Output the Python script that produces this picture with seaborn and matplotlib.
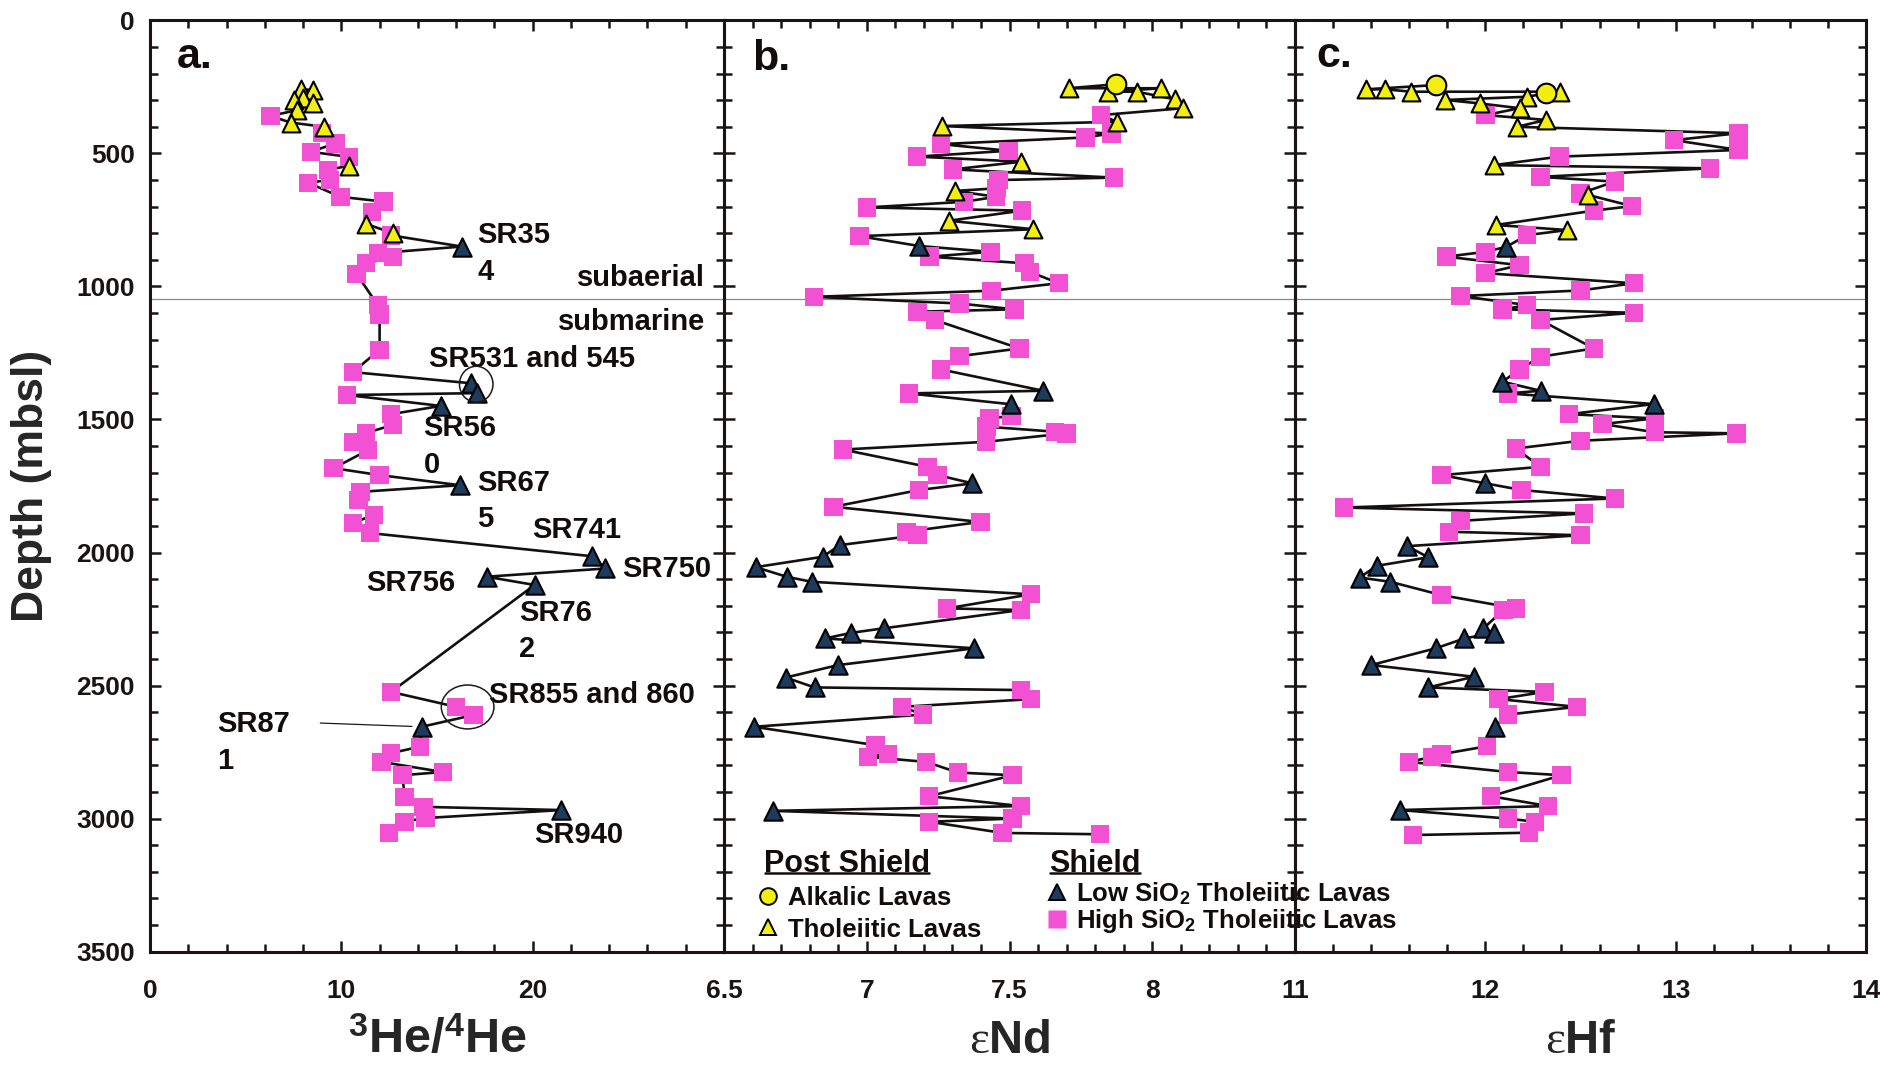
import matplotlib
matplotlib.use("Agg")
import numpy as np
import pandas as pd
import matplotlib.pyplot as plt
import seaborn as sns
from matplotlib.ticker import MultipleLocator, FixedLocator, FixedFormatter
from matplotlib.patches import Ellipse
from matplotlib.lines import Line2D

# ---------------------------------------------------------------------------
# Sample types: alk = post-shield alkalic, tho = post-shield tholeiitic,
#               low = shield low-SiO2 tholeiite, high = shield high-SiO2 tholeiite
# ---------------------------------------------------------------------------

# Panel a: 3He/4He (R/Ra) versus depth
he_depth = [258, 262, 290, 300, 312, 337, 359, 384, 400, 424, 462, 494, 513, 546,
            562, 600, 610, 663, 681, 720, 765, 800, 808, 850, 875, 889, 913, 953,
            1070, 1105, 1238, 1322, 1364, 1401, 1408, 1449, 1480, 1520, 1551, 1584,
            1615, 1683, 1709, 1747, 1772, 1803, 1859, 1889, 1927, 2014, 2060, 2091,
            2122, 2524, 2580, 2611, 2655, 2730, 2754, 2787, 2825, 2837, 2918, 2956,
            2968, 2998, 3012, 3055]
he_ratio = [7.9, 8.5, 8.0, 7.5, 8.5, 7.7, 6.3, 7.35, 9.1, 9.0, 9.7, 8.4, 10.4, 10.4,
            9.3, 9.4, 8.25, 9.95, 12.2, 11.6, 11.3, 12.7, 12.6, 16.3, 11.9, 12.7, 11.3, 10.8,
            11.9, 12.0, 12.0, 10.6, 16.8, 17.1, 10.3, 15.2, 12.6, 12.7, 11.3, 10.6,
            11.4, 9.6, 12.0, 16.2, 11.0, 10.9, 11.7, 10.6, 11.5, 23.1, 23.8, 17.6,
            20.1, 12.6, 16.0, 16.9, 14.2, 14.1, 12.6, 12.1, 15.3, 13.2, 13.3, 14.3,
            21.5, 14.4, 13.3, 12.5]
he_type = ["tho", "tho", "tho", "tho", "tho", "tho", "high", "tho", "tho", "high", "high", "high", "high", "tho",
           "high", "high", "high", "high", "high", "high", "tho", "tho", "high", "low", "high", "high", "high", "high",
           "high", "high", "high", "high", "low", "low", "high", "low", "high", "high", "high", "high",
           "high", "high", "high", "low", "high", "high", "high", "high", "high", "low", "low", "low",
           "low", "high", "high", "high", "low", "high", "high", "high", "high", "high", "high", "high",
           "low", "high", "high", "high"]

# Panel b: epsilon Nd versus depth
nd_depth = [240, 255, 255, 268, 268, 297, 330, 356, 381, 397, 425, 440, 465, 490, 512, 531,
            560, 591, 600, 631, 641, 663, 682, 703, 715, 753, 785, 811, 848, 870, 888, 913,
            945, 988, 1016, 1039, 1064, 1086, 1095, 1126, 1233, 1262, 1312, 1392, 1402, 1443,
            1487, 1496, 1527, 1546, 1552, 1584, 1613, 1678, 1709, 1740, 1765, 1828, 1885, 1922,
            1935, 1972, 2016, 2055, 2091, 2110, 2157, 2210, 2216, 2285, 2302, 2323, 2360, 2423,
            2470, 2507, 2517, 2551, 2580, 2609, 2655, 2724, 2758, 2768, 2787, 2827, 2837, 2916,
            2953, 2971, 3000, 3012, 3054, 3059]
nd_value = [7.873, 7.708, 8.03, 7.846, 7.947, 8.08, 8.108, 7.82, 7.876, 7.265, 7.857, 7.766, 7.259, 7.497, 7.175, 7.542,
            7.303, 7.866, 7.462, 7.455, 7.31, 7.453, 7.34, 7.0, 7.544, 7.287, 7.584, 6.974, 7.184, 7.434, 7.22, 7.553,
            7.571, 7.673, 7.437, 6.815, 7.325, 7.517, 7.178, 7.238, 7.535, 7.325, 7.26, 7.618, 7.148, 7.507,
            7.507, 7.43, 7.42, 7.66, 7.70, 7.417, 6.916, 7.213, 7.248, 7.37, 7.184, 6.883, 7.398, 7.139,
            7.178, 6.906, 6.846, 6.611, 6.719, 6.807, 7.575, 7.281, 7.54, 7.059, 6.945, 6.854, 7.377, 6.9,
            6.716, 6.817, 7.54, 7.576, 7.124, 7.197, 6.605, 7.03, 7.075, 7.004, 7.208, 7.32, 7.511, 7.219,
            7.54, 6.671, 7.511, 7.219, 7.476, 7.818]
nd_type = ["alk", "tho", "tho", "tho", "tho", "tho", "tho", "high", "tho", "tho", "high", "high", "high", "high", "high", "tho",
           "high", "high", "high", "high", "tho", "high", "high", "high", "high", "tho", "tho", "high", "low", "high", "high", "high",
           "high", "high", "high", "high", "high", "high", "high", "high", "high", "high", "high", "low", "high", "low",
           "high", "high", "high", "high", "high", "high", "high", "high", "high", "low", "high", "high", "high", "high",
           "high", "low", "low", "low", "low", "low", "high", "high", "high", "low", "low", "low", "low", "low",
           "low", "low", "high", "high", "high", "high", "low", "high", "high", "high", "high", "high", "high", "high",
           "high", "low", "high", "high", "high", "high"]

# Panel c: epsilon Hf versus depth
hf_depth = [243, 259, 259, 268, 268, 274, 287, 299, 312, 330, 356, 374, 400, 424, 450, 487,
            512, 544, 556, 588, 606, 650, 656, 698, 715, 769, 788, 807, 851, 870, 888, 920,
            950, 988, 1015, 1036, 1070, 1086, 1099, 1126, 1233, 1264, 1312, 1358, 1392, 1402,
            1442, 1480, 1496, 1517, 1548, 1552, 1580, 1609, 1678, 1709, 1740, 1765, 1797, 1831,
            1853, 1881, 1922, 1935, 1976, 2018, 2050, 2094, 2110, 2160, 2210, 2216, 2285, 2302,
            2323, 2360, 2423, 2467, 2507, 2524, 2551, 2580, 2609, 2655, 2728, 2758, 2768, 2787,
            2825, 2837, 2916, 2953, 2968, 3000, 3012, 3053, 3062]
hf_value = [11.74, 11.374, 11.473, 11.611, 12.39, 12.32, 12.22, 11.79, 11.97, 12.18, 12.0, 12.32, 12.165, 13.33, 12.99, 13.33,
            12.39, 12.045, 13.18, 12.29, 12.68, 12.5, 12.54, 12.77, 12.57, 12.056, 12.43, 12.22, 12.11, 12.0, 11.795, 12.18,
            12.0, 12.78, 12.5, 11.87, 12.22, 12.09, 12.78, 12.29, 12.57, 12.29, 12.18, 12.09, 12.29, 12.12,
            12.885, 12.44, 12.89, 12.615, 12.89, 13.32, 12.5, 12.16, 12.29, 11.77, 12.0, 12.19, 12.68, 11.256,
            12.52, 11.87, 11.81, 12.5, 11.59, 11.70, 11.43, 11.34, 11.50, 11.77, 12.16, 12.095, 11.99, 12.045,
            11.89, 11.74, 11.40, 11.94, 11.70, 12.31, 12.07, 12.48, 12.12, 12.05, 12.01, 11.77, 11.72, 11.6,
            12.12, 12.40, 12.03, 12.33, 11.55, 12.12, 12.26, 12.23, 11.62]
hf_type = ["alk", "tho", "tho", "tho", "tho", "alk", "tho", "tho", "tho", "tho", "high", "tho", "tho", "high", "high", "high",
           "high", "tho", "high", "high", "high", "high", "tho", "high", "high", "tho", "tho", "high", "low", "high", "high", "high",
           "high", "high", "high", "high", "high", "high", "high", "high", "high", "high", "high", "low", "low", "high",
           "low", "high", "high", "high", "high", "high", "high", "high", "high", "high", "low", "high", "high", "high",
           "high", "high", "high", "high", "low", "low", "low", "low", "low", "high", "high", "high", "low", "low",
           "low", "low", "low", "low", "low", "high", "high", "high", "high", "low", "high", "high", "high", "high",
           "high", "high", "high", "high", "low", "high", "high", "high", "high"]

# Depth of the subaerial / submarine transition
transition_depth = 1046

# ---------------------------------------------------------------------------
sns.set_style("ticks")
plt.rcParams.update({
    "font.family": ["Liberation Sans", "DejaVu Sans"],
    "font.weight": "bold",
    "mathtext.fontset": "custom",
    "mathtext.rm": "Liberation Sans:bold",
    "mathtext.bf": "Liberation Sans:bold",
    "mathtext.it": "Liberation Serif:weight=normal:style=normal",
    "axes.linewidth": 2.2,
    "axes.edgecolor": "#1c1414",
    "xtick.color": "#1c1414",
    "ytick.color": "#1c1414",
    "text.color": "#140c0c",
})

PINK = "#F351D3"
BLUE = "#1D3B5C"
YELLOW = "#F2EE10"
LINE = "#141010"

styles = {
    "high": dict(marker="s", color=PINK, s=175, linewidth=0, edgecolor="none"),
    "low": dict(marker="^", color=BLUE, s=175, linewidth=1.5, edgecolor="black"),
    "tho": dict(marker="^", color=YELLOW, s=165, linewidth=1.5, edgecolor="black"),
    "alk": dict(marker="o", color=YELLOW, s=200, linewidth=1.5, edgecolor="black"),
}

W, H = 1881, 1065
fig = plt.figure(figsize=(W / 100, H / 100), dpi=100)
top_px, bot_px = 20.4, 951.6
panel_edges = [150, 724, 1295, 1866]
axes = []
for i in range(3):
    x0, x1 = panel_edges[i], panel_edges[i + 1]
    ax = fig.add_axes([x0 / W, 1 - bot_px / H, (x1 - x0) / W, (bot_px - top_px) / H])
    ax.set_facecolor("none")
    axes.append(ax)
ax_a, ax_b, ax_c = axes


def draw_panel(ax, depth, value, kind):
    df = pd.DataFrame({"depth": depth, "value": value, "kind": kind})
    df = df.sort_values("depth", kind="stable").reset_index(drop=True)
    sns.lineplot(data=df, x="value", y="depth", sort=False, estimator=None,
                 color=LINE, linewidth=1.9, ax=ax, zorder=2)
    for k in ["high", "low", "tho", "alk"]:
        sub = df[df["kind"] == k]
        if len(sub):
            sns.scatterplot(data=sub, x="value", y="depth", ax=ax, zorder=3,
                            legend=False, **styles[k])
    ax.axhline(transition_depth, color="#8a8a8a", lw=0.9, zorder=1)
    ax.set_ylim(3500, 0)
    ax.yaxis.set_major_locator(MultipleLocator(500))
    ax.yaxis.set_minor_locator(MultipleLocator(100))
    ax.tick_params(which="both", direction="in", top=True, right=True, width=1.8)
    ax.tick_params(which="major", length=8, labelsize=19, pad=20)
    ax.tick_params(which="minor", length=6)
    ax.tick_params(axis="y", which="major", pad=11)
    ax.set_xlabel("")
    ax.set_ylabel("")
    for sp in ax.spines.values():
        sp.set_linewidth(2.2)
    return df


df_a = draw_panel(ax_a, he_depth, he_ratio, he_type)
df_b = draw_panel(ax_b, nd_depth, nd_value, nd_type)
df_c = draw_panel(ax_c, hf_depth, hf_value, hf_type)

# x axes
ax_a.set_xlim(0, 30)
ax_a.xaxis.set_major_locator(FixedLocator([0, 10, 20, 30]))
ax_a.xaxis.set_major_formatter(FixedFormatter(["0", "10", "20", ""]))
ax_a.xaxis.set_minor_locator(MultipleLocator(2))

ax_b.set_xlim(6.5, 8.5)
ax_b.xaxis.set_major_locator(FixedLocator([6.5, 7, 7.5, 8, 8.5]))
ax_b.xaxis.set_major_formatter(FixedFormatter(["6.5", "7", "7.5", "8", ""]))
ax_b.xaxis.set_minor_locator(MultipleLocator(0.1))

ax_c.set_xlim(11, 14)
ax_c.xaxis.set_major_locator(FixedLocator([11, 12, 13, 14]))
ax_c.xaxis.set_major_formatter(FixedFormatter(["11", "12", "13", "14"]))
ax_c.xaxis.set_minor_locator(MultipleLocator(0.2))

for ax in (ax_b, ax_c):
    ax.tick_params(axis="y", labelleft=False)

# axis titles
ax_a.set_ylabel("Depth (mbsl)", fontsize=32, fontweight="bold")
ax_a.yaxis.set_label_coords(-0.170, 0.5)

xlabels = [(ax_a, r"$^{3}$He/$^{4}$He", 35), (ax_b, r"$\varepsilon$Nd", 34), (ax_c, r"$\varepsilon$Hf", 34)]
for ax, lab, fs in xlabels:
    ax.set_xlabel(lab, fontsize=fs, fontweight="bold")
    ax.xaxis.label.set_va("baseline")
    ax.xaxis.set_label_coords(0.5, -0.109)

# panel letters
ax_a.text(0.047, 0.949, "a.", transform=ax_a.transAxes, fontsize=31, ha="left", va="baseline")
ax_b.text(0.050, 0.947, "b.", transform=ax_b.transAxes, fontsize=31, ha="left", va="baseline")
ax_c.text(0.037, 0.950, "c.", transform=ax_c.transAxes, fontsize=31, ha="left", va="baseline")

# sample annotations in panel a
note_fs = 21
notes = [
    ("SR35", 17.1, 807, "left"), ("4", 17.1, 945, "left"),
    ("subaerial", 29.0, 970, "right"), ("submarine", 29.0, 1133, "right"),
    ("SR531 and 545", 14.6, 1273, "left"),
    ("SR56", 14.3, 1532, "left"), ("0", 14.3, 1671, "left"),
    ("SR67", 17.1, 1737, "left"), ("5", 17.1, 1874, "left"),
    ("SR741", 20.0, 1916, "left"), ("SR750", 24.7, 2062, "left"),
    ("SR756", 11.3, 2115, "left"),
    ("SR76", 19.3, 2228, "left"), ("2", 19.3, 2363, "left"),
    ("SR855 and 860", 17.7, 2536, "left"),
    ("SR87", 3.5, 2645, "left"), ("1", 3.5, 2784, "left"),
    ("SR940", 20.1, 3062, "left"),
]
for txt, x, y, ha in notes:
    ax_a.text(x, y, txt, fontsize=note_fs, ha=ha, va="center", zorder=4)

# ellipses around paired samples, centred on the samples themselves
pair1 = df_a[(df_a["kind"] == "low") & df_a["depth"].between(1350, 1420)]
pair2 = df_a[(df_a["kind"] == "high") & df_a["depth"].between(2570, 2620)]
ax_a.add_patch(Ellipse((pair1["value"].mean() + 0.1, pair1["depth"].mean() - 15), 1.75, 135,
                       fill=False, lw=1.1, ec="#201818", zorder=4))
ax_a.add_patch(Ellipse((pair2["value"].mean() + 0.15, pair2["depth"].mean() - 15), 2.75, 165,
                       fill=False, lw=1.1, ec="#201818", zorder=4))

# leader line to SR871
sr871 = df_a[(df_a["kind"] == "low") & df_a["depth"].between(2640, 2670)].iloc[0]
ax_a.annotate("", xy=(sr871["value"], sr871["depth"]), xytext=(8.9, 2641),
              arrowprops=dict(arrowstyle="-", color="#201818", lw=0.9, shrinkA=0, shrinkB=7),
              zorder=4)

# legends
def legend_group(ax, handles, labels, title, anchor, hl, htp, spacing):
    leg = ax.legend(handles, labels, title=title, loc="upper left", bbox_to_anchor=anchor,
                    frameon=False, prop={"size": 18.5, "weight": "bold"},
                    title_fontproperties={"size": 22, "weight": "bold"},
                    handlelength=hl, handletextpad=htp, labelspacing=spacing,
                    borderpad=0, borderaxespad=0, handleheight=0.8)
    leg._legend_box.align = "left"
    return leg

post_handles = [
    Line2D([], [], ls="none", marker="o", ms=12, mfc=YELLOW, mec="black", mew=1.4),
    Line2D([], [], ls="none", marker="^", ms=11, mfc=YELLOW, mec="black", mew=1.4),
]
shield_handles = [
    Line2D([], [], ls="none", marker="^", ms=12, mfc=BLUE, mec="black", mew=1.4),
    Line2D([], [], ls="none", marker="s", ms=12.5, mfc=PINK, mec="none"),
]
leg1 = legend_group(ax_b, post_handles, ["Alkalic Lavas", "Tholeiitic Lavas"],
                    "Post Shield", (0.07, 0.110), 0.35, 0.6, 0.28)
ax_b.add_artist(leg1)
leg2 = legend_group(ax_b, shield_handles,
                    [r"Low SiO$_2$ Tholeiitic Lavas", r"High SiO$_2$ Tholeiitic Lavas"],
                    "Shield", (0.57, 0.110), 0.55, 0.5, 0.03)

# underline the legend headings
fig.canvas.draw()
renderer = fig.canvas.get_renderer()
inv = fig.transFigure.inverted()
for leg in (leg1, leg2):
    bb = leg.get_title().get_window_extent(renderer)
    y = bb.y0 + 0.2 * bb.height
    (fx0, fy), (fx1, _) = inv.transform([(bb.x0 + 1, y), (bb.x1 - 1, y)])
    fig.add_artist(Line2D([fx0, fx1], [fy, fy], color="#140c0c", lw=1.8))

fig.savefig("out.png", dpi=100)
